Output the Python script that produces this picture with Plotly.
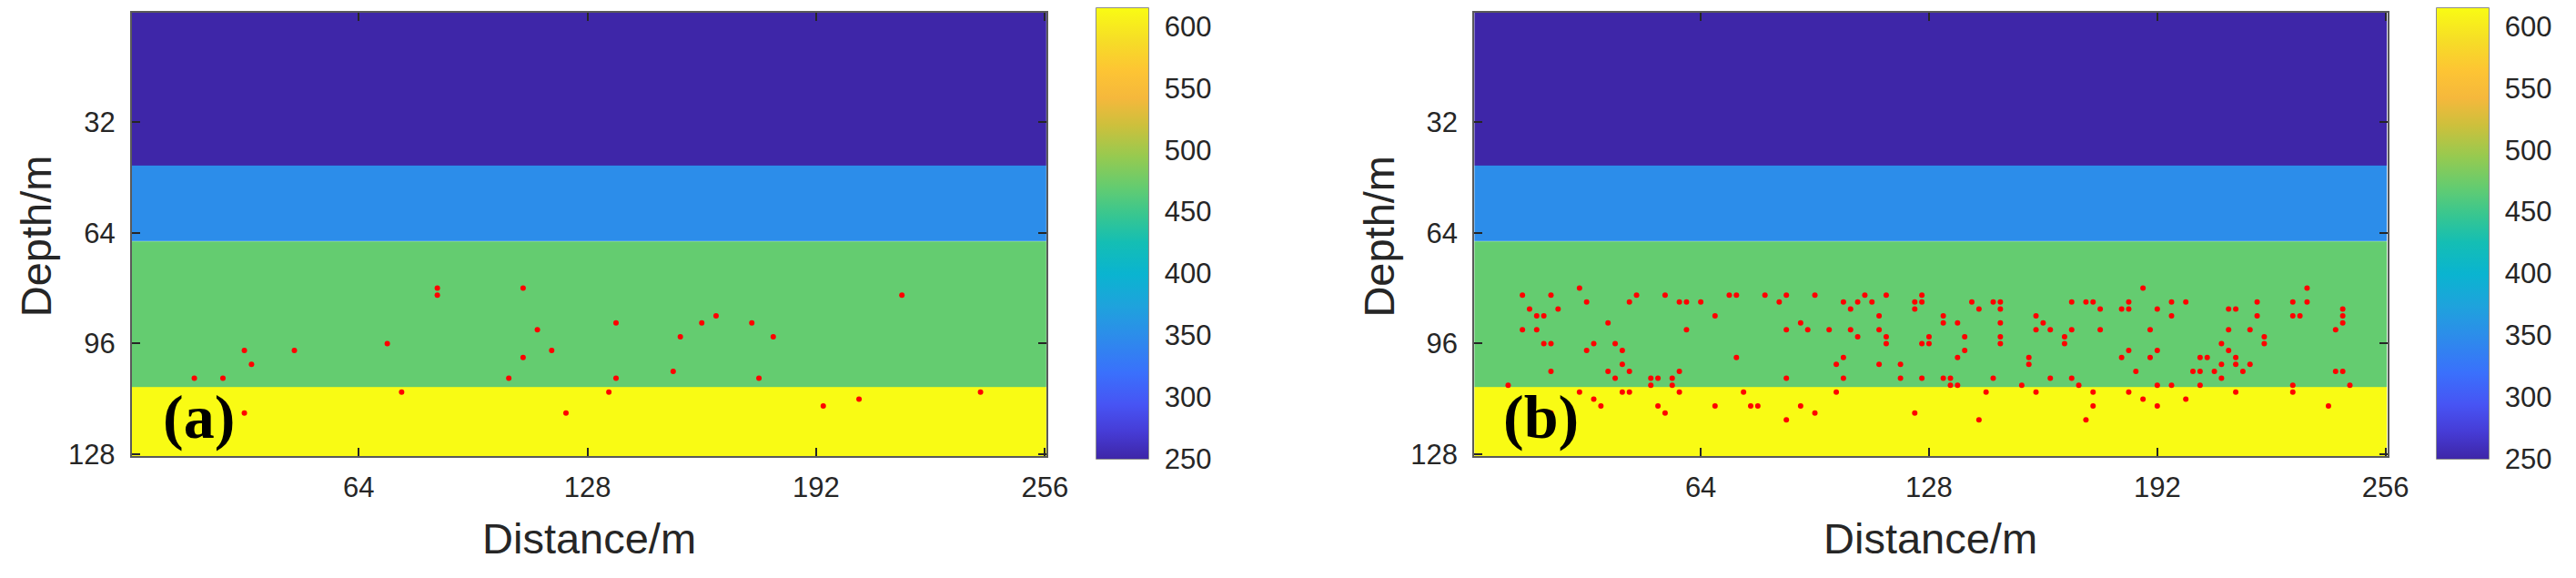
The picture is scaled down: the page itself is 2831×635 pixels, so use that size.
import numpy as np
import plotly.graph_objects as go

# ---------------- data ----------------
# layered velocity model (depth rows are 1..128, distance columns 1..256)
layer_velocity = [250, 350, 470, 615]           # m/s
layer_edges = [0.5, 44.5, 66.5, 108.5, 128.5]   # depth edges of the layers
distance_edges = [0.5, 256.5]

# sensor points, panel (a)
a_dist = [18, 26, 32, 34, 32, 46, 72, 76, 86, 86, 106, 110, 110, 114, 118,
          122, 134, 136, 136, 152, 154, 160, 164, 174, 176, 180, 194, 204, 216, 238]
a_depth = [106, 106, 98, 102, 116, 98, 96, 110, 80, 82, 106, 80, 100, 92, 98,
           116, 110, 90, 106, 104, 94, 90, 88, 90, 106, 94, 114, 112, 82, 110]

# sensor points, panel (b) grouped by depth row
b_rows = {
    80: [30, 188, 234],
    82: [14, 22, 46, 54, 72, 74, 82, 88, 96, 110, 116, 126],
    84: [32, 44, 58, 60, 64, 86, 104, 108, 112, 124, 126, 140, 146, 148,
         168, 172, 174, 184, 196, 200, 220, 230, 234],
    86: [16, 24, 106, 124, 142, 148, 176, 182, 184, 192, 212, 214, 244],
    88: [18, 20, 68, 114, 132, 158, 196, 220, 230, 232, 244],
    90: [38, 92, 132, 136, 148, 160, 244],
    92: [14, 18, 60, 88, 94, 100, 106, 114, 158, 162, 168, 176, 190, 212, 218, 242],
    94: [108, 116, 128, 138, 148, 166, 222],
    96: [20, 22, 34, 40, 116, 126, 128, 148, 166, 210, 222],
    98: [32, 42, 138, 184, 192, 212],
    100: [74, 104, 136, 156, 182, 190, 204, 206, 214],
    102: [42, 102, 114, 120, 156, 210, 214, 218],
    104: [22, 38, 44, 58, 186, 202, 204, 208, 216, 242, 244],
    106: [40, 50, 52, 56, 88, 104, 120, 126, 132, 134, 146, 162, 168, 210],
    108: [10, 50, 56, 134, 136, 154, 170, 192, 196, 204, 230, 246],
    110: [30, 42, 44, 58, 76, 102, 144, 158, 174, 184, 214, 230],
    112: [34, 188, 200],
    114: [36, 52, 68, 78, 80, 92, 174, 192, 240],
    116: [22, 54, 96, 124],
    118: [88, 142, 172],
}

x_ticks = [64, 128, 192, 256]
y_ticks = [32, 64, 96, 128]
cbar_ticks = [250, 300, 350, 400, 450, 500, 550, 600]
panel_labels = ["(a)", "(b)"]

b_dist = [x for d, xs in b_rows.items() for x in xs]
b_depth = [d for d, xs in b_rows.items() for x in xs]

# ---------------- style ----------------
W, H = 2831, 635
cmin, cmax = 250, 615

def frac(v):
    return (v - cmin) / (cmax - cmin)

parula = [
    [0.00, "rgb(62,38,168)"],
    [0.06, "rgb(70,60,214)"],
    [0.12, "rgb(71,84,244)"],
    [0.19, "rgb(58,112,252)"],
    [frac(350), "rgb(44,141,234)"],
    [0.34, "rgb(30,163,220)"],
    [0.41, "rgb(10,180,208)"],
    [0.48, "rgb(20,190,180)"],
    [0.54, "rgb(55,198,145)"],
    [frac(470), "rgb(100,204,112)"],
    [0.67, "rgb(150,202,80)"],
    [0.74, "rgb(205,192,60)"],
    [0.80, "rgb(245,184,60)"],
    [0.86, "rgb(253,196,52)"],
    [0.93, "rgb(246,222,38)"],
    [1.00, "rgb(249,251,20)"],
]

# upper two layers and lower two layers as two heatmaps (same colour scale),
# so that one colour bar draws the inner tick marks and the other the labels
z_upper = [[v] for v in layer_velocity[:2]]
z_lower = [[v] for v in layer_velocity[2:]]
edges_upper = layer_edges[:3]
edges_lower = layer_edges[2:]

fig = go.Figure()

px_x = lambda p: p / W
px_y = lambda p: 1 - p / H

panels = [
    dict(xd=(138, 1152), cb=1207, xs=a_dist, ys=a_depth, ca=("coloraxis", "coloraxis3"),
         xa="x", ya="y"),
    dict(xd=(1626, 2638), cb=2693, xs=b_dist, ys=b_depth, ca=("coloraxis2", "coloraxis4"),
         xa="x2", ya="y2"),
]

tick_font = dict(family="Liberation Sans, Arial", size=31, color="#262626")
title_font = dict(family="Liberation Sans, Arial", size=47, color="#262626")

for i, p in enumerate(panels):
    fig.add_trace(go.Heatmap(
        z=z_upper, x=distance_edges, y=edges_upper, coloraxis=p["ca"][0],
        xaxis=p["xa"], yaxis=p["ya"], hoverinfo="skip"))
    fig.add_trace(go.Heatmap(
        z=z_lower, x=distance_edges, y=edges_lower, coloraxis=p["ca"][1],
        xaxis=p["xa"], yaxis=p["ya"], hoverinfo="skip"))
    fig.add_trace(go.Scatter(
        x=p["xs"], y=p["ys"], mode="markers", xaxis=p["xa"], yaxis=p["ya"],
        marker=dict(color="#ff0000", size=6, line=dict(width=0)),
        showlegend=False, hoverinfo="skip"))

    sfx = "" if i == 0 else "2"
    axis_common = dict(showline=True, linecolor="#5a5a5a", linewidth=2, mirror="ticks",
                       ticks="inside", ticklen=9, tickwidth=1.5, tickcolor="#262626",
                       showgrid=False, zeroline=False, tickfont=tick_font)
    cb_common = dict(x=px_x(p["cb"]), xanchor="left", xpad=0, ypad=0,
                     thickness=57, len=495, lenmode="pixels",
                     y=px_y(254.75), yanchor="middle", tickvals=cbar_ticks,
                     tickfont=tick_font)
    fig.update_layout(**{
        "xaxis" + sfx: dict(domain=[px_x(p["xd"][0]), px_x(p["xd"][1])],
                            range=[0.5, 256.5], tickvals=x_ticks, anchor="y" + sfx,
                            ticklabelstandoff=6, **axis_common),
        "yaxis" + sfx: dict(domain=[px_y(506), px_y(6)], range=[128.5, 0.5],
                            tickvals=y_ticks, anchor="x" + sfx,
                            ticklabelstandoff=10, **axis_common),
        # colour bar with the labels (outside ticks made invisible to set the gap)
        p["ca"][1]: dict(cmin=cmin, cmax=cmax, colorscale=parula,
                         colorbar=dict(outlinewidth=0, ticks="outside", ticklen=12,
                                       tickcolor="rgba(0,0,0,0)", **cb_common)),
        # colour bar with the frame and the inner tick marks, drawn on top
        p["ca"][0]: dict(cmin=cmin, cmax=cmax, colorscale=parula,
                         colorbar=dict(outlinewidth=1.5, outlinecolor="#6a6a6a",
                                       ticks="inside", ticklen=7, tickwidth=1.5,
                                       tickcolor="#262626", showticklabels=False,
                                       **cb_common)),
    })
    cx = (p["xd"][0] + p["xd"][1]) / 2
    fig.add_annotation(text="Distance/m", x=px_x(cx), y=px_y(599), xref="paper", yref="paper",
                       showarrow=False, font=title_font, xanchor="center", yanchor="middle")
    fig.add_annotation(text="Depth/m", x=px_x(p["xd"][0] - 106), y=px_y(258), xref="paper",
                       yref="paper", showarrow=False, font=title_font, textangle=-90,
                       xanchor="center", yanchor="middle")
    fig.add_annotation(text="<b>%s</b>" % panel_labels[i], x=px_x(p["xd"][0] + 74),
                       y=px_y(462), xref="paper", yref="paper", showarrow=False,
                       font=dict(family="Liberation Serif, Times New Roman", size=68,
                                 color="#000000"),
                       xanchor="center", yanchor="middle")

fig.update_layout(width=W, height=H, autosize=False,
                  margin=dict(l=0, r=0, t=0, b=0),
                  paper_bgcolor="white", plot_bgcolor="white", showlegend=False)

fig.write_html("out.html")
